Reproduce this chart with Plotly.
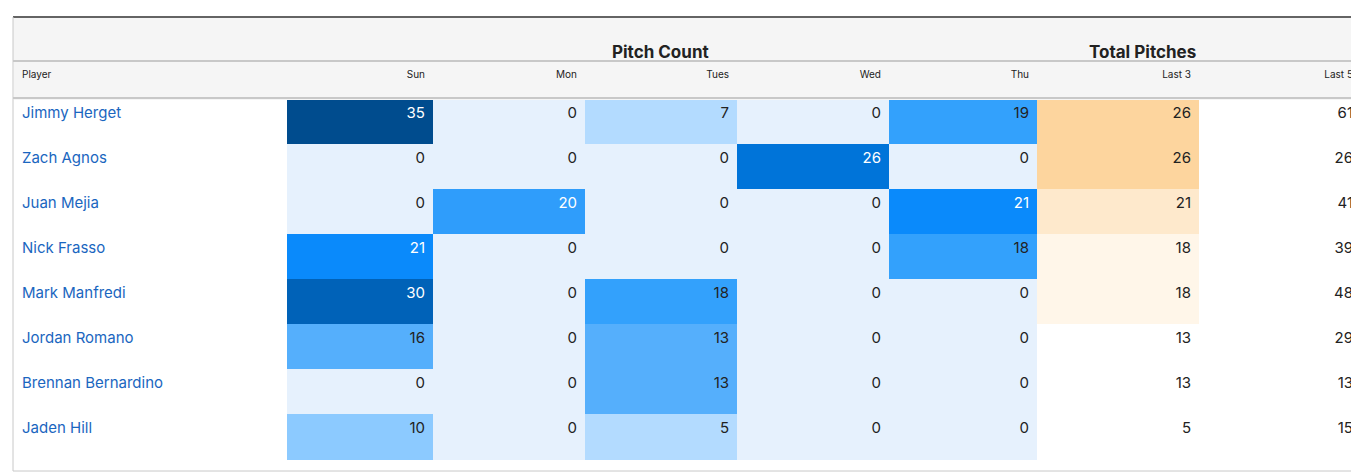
import plotly.graph_objects as go

W, H = 1359, 472

players = ["Jimmy Herget", "Zach Agnos", "Juan Mejia", "Nick Frasso",
           "Mark Manfredi", "Jordan Romano", "Brennan Bernardino", "Jaden Hill"]
days = ["Sun", "Mon", "Tues", "Wed", "Thu"]
sun = [35, 0, 0, 21, 30, 16, 0, 10]
mon = [0, 0, 20, 0, 0, 0, 0, 0]
tues = [7, 0, 0, 0, 18, 13, 13, 5]
wed = [0, 26, 0, 0, 0, 0, 0, 0]
thu = [19, 0, 21, 18, 0, 0, 0, 0]
last3 = [26, 26, 21, 18, 18, 13, 13, 5]
last5 = [61, 26, 41, 39, 48, 29, 13, 15]

BLUES = [(0, "#e6f1fd"), (5, "#b3dbff"), (7, "#b3dbff"), (10, "#8ccaff"),
         (13, "#55affc"), (16, "#55affc"), (18, "#33a1fc"), (19, "#33a1fc"),
         (20, "#2f9dfb"), (21, "#0a8afb"), (26, "#0074d9"), (30, "#0062b8"),
         (35, "#004c8e")]
ORANGES = {26: "#fdd59e", 21: "#fee9cc", 18: "#fff6e9"}


def blue(v, col):
    if col == 2 and v == 20:
        return "#2f9dfb"
    c = BLUES[0][1]
    for t, colr in BLUES:
        if v >= t:
            c = colr
    return c


day_cols = [sun, mon, tues, wed, thu]
fills = [["white"] * 8]
fonts = [["#1a66c0"] * 8]
for i, col in enumerate(day_cols):
    fills.append([blue(v, i) for v in col])
    fonts.append(["white" if v >= 20 else "#222" for v in col])
fills.append([ORANGES.get(v, "white") for v in last3])
fonts.append(["#222"] * 8)
fills.append(["white"] * 8)
fonts.append(["#222"] * 8)

fig = go.Figure(go.Table(
    domain=dict(x=[6 / W, 1353 / W], y=[1 - 454 / H, 1 - 54 / H]),
    columnwidth=[273, 146, 152, 152, 152, 148, 162, 162],
    header=dict(values=["Player"] + days + ["Last 3", "Last 5"],
                align=["left"] + ["right"] * 7, height=37,
                fill_color="#f5f5f5", line_color="#f5f5f5",
                font=dict(family="Inter", size=10, color="#222")),
    cells=dict(values=[players] + day_cols + [last3, last5],
               align=["left"] + ["right"] * 7, height=45,
               fill_color=fills, line_color=fills,
               font=dict(family="Inter", size=15, color=fonts)),
))

fig.update_layout(
    width=W, height=H, margin=dict(l=0, r=0, t=0, b=0),
    paper_bgcolor="white",
    shapes=[
        dict(type="rect", xref="paper", yref="paper", x0=5 / W, x1=1354 / W,
             y0=1 - 53 / H, y1=1 - 9 / H, fillcolor="#f5f5f5", line_width=0, layer="below"),
        dict(type="line", xref="paper", yref="paper", x0=5 / W, x1=1354 / W,
             y0=1 - 9 / H, y1=1 - 9 / H, line=dict(color="black", width=2)),
        dict(type="line", xref="paper", yref="paper", x0=5 / W, x1=1354 / W,
             y0=1 - 53 / H, y1=1 - 53 / H, line=dict(color="#c8c8c8", width=2)),
        dict(type="line", xref="paper", yref="paper", x0=5 / W, x1=1354 / W,
             y0=1 - 90 / H, y1=1 - 90 / H, line=dict(color="#c8c8c8", width=2)),
        dict(type="rect", xref="paper", yref="paper", x0=5 / W, x1=1354 / W,
             y0=1 - 463 / H, y1=1 - 9 / H, line=dict(color="#c8c8c8", width=1)),
        dict(type="rect", xref="paper", yref="paper", x0=5 / W, x1=1354 / W,
             y0=0, y1=1 - 466 / H, fillcolor="#f5f5f5", line=dict(color="#c8c8c8", width=1)),
    ],
    annotations=[
        dict(text="<b>Pitch Count</b>", x=652 / W, y=1 - 32 / H, xref="paper", yref="paper",
             showarrow=False, font=dict(family="Inter", size=17, color="#222")),
        dict(text="<b>Total Pitches</b>", x=1190 / W, y=1 - 32 / H, xref="paper", yref="paper",
             showarrow=False, font=dict(family="Inter", size=17, color="#222")),
    ],
)

fig.write_html("out.html")
